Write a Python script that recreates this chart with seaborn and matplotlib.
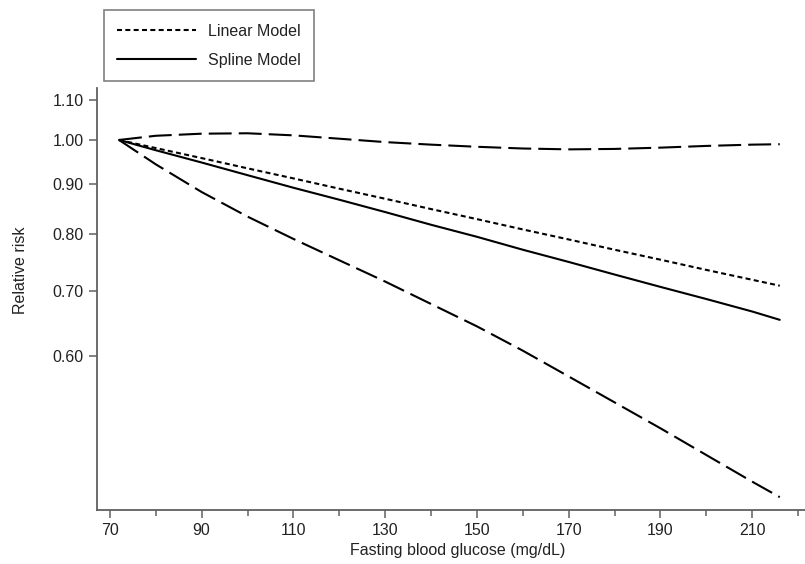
import numpy as np
import pandas as pd
import matplotlib
matplotlib.use("Agg")
import matplotlib.pyplot as plt
import seaborn as sns
from matplotlib.ticker import FixedLocator, MultipleLocator, NullLocator, FormatStrFormatter

glucose = [72, 80, 90, 100, 110, 120, 130, 140, 150, 160, 170, 180, 190, 200, 210, 216]

# relative risk readings
linear_rr = [1.000, 0.981, 0.958, 0.935, 0.913, 0.891, 0.870, 0.849, 0.829,
             0.809, 0.790, 0.771, 0.753, 0.735, 0.718, 0.708]
spline_rr = [1.000, 0.976, 0.948, 0.920, 0.893, 0.868, 0.843, 0.818, 0.795,
             0.771, 0.749, 0.727, 0.706, 0.686, 0.666, 0.653]
upper_ci = [1.000, 1.010, 1.015, 1.016, 1.011, 1.003, 0.995, 0.989, 0.984,
            0.980, 0.978, 0.979, 0.982, 0.986, 0.989, 0.990]
lower_ci = [1.000, 0.944, 0.884, 0.834, 0.791, 0.752, 0.715, 0.678, 0.643,
            0.607, 0.571, 0.537, 0.505, 0.474, 0.445, 0.429]

yticks = [0.60, 0.70, 0.80, 0.90, 1.00, 1.10]
xticks = [70, 90, 110, 130, 150, 170, 190, 210]

sns.set_style("ticks")
plt.rcParams['font.family'] = ['Liberation Sans', 'DejaVu Sans']
fs = 11.5

fig = plt.figure(figsize=(8.05, 5.64), dpi=100)
ax = fig.add_axes([0.1205, 0.0957, 0.8795, 0.7483])

df = pd.DataFrame({'glucose': glucose, 'linear': linear_rr, 'spline': spline_rr,
                   'upper': upper_ci, 'lower': lower_ci})

lw = 1.5
long_dash = (0, (11, 3.4))
short_dash = (0, (2.4, 1.6))

sns.lineplot(data=df, x='glucose', y='upper', ax=ax, color='black', lw=lw, linestyle=long_dash)
sns.lineplot(data=df, x='glucose', y='lower', ax=ax, color='black', lw=lw, linestyle=long_dash)
sns.lineplot(data=df, x='glucose', y='linear', ax=ax, color='black', lw=lw, linestyle=short_dash)
sns.lineplot(data=df, x='glucose', y='spline', ax=ax, color='black', lw=lw, linestyle='-')

ax.set_yscale('log')
ax.set_ylim(0.4161, 1.1311)
ax.set_xlim(67.2, 221.5)

ax.yaxis.set_major_locator(FixedLocator(yticks))
ax.yaxis.set_major_formatter(FormatStrFormatter('%.2f'))
ax.yaxis.set_minor_locator(NullLocator())
ax.xaxis.set_major_locator(FixedLocator(xticks))
ax.xaxis.set_minor_locator(MultipleLocator(10))

for side in ['top', 'right']:
    ax.spines[side].set_visible(False)
for side in ['left', 'bottom']:
    ax.spines[side].set_color('#606060')
    ax.spines[side].set_linewidth(1.3)

ax.tick_params(axis='both', which='major', length=6, width=1.1, color='#606060',
               labelcolor='#222222', labelsize=fs, pad=3.5)
ax.tick_params(axis='x', which='minor', length=4, width=1.1, color='#606060')

ax.set_xlabel('Fasting blood glucose (mg/dL)', fontsize=fs, color='#222222')
ax.set_ylabel('Relative risk', fontsize=fs, color='#222222')
ax.xaxis.set_label_coords(0.51, -0.077)
ax.yaxis.set_label_coords(-0.097, 0.569)

h_lin, = ax.plot([], [], color='black', lw=lw, linestyle=short_dash)
h_spl, = ax.plot([], [], color='black', lw=lw, linestyle='-')
leg = fig.legend([h_lin, h_spl], ['Linear Model', 'Spline Model'],
                 loc='upper left', bbox_to_anchor=(0.129, 0.982),
                 frameon=True, fancybox=False, fontsize=fs,
                 handlelength=4.95, handletextpad=0.7, labelspacing=0.88,
                 borderpad=0.85, borderaxespad=0)
leg.get_frame().set_edgecolor('#606060')
leg.get_frame().set_linewidth(1.2)
for t in leg.get_texts():
    t.set_color('#222222')

fig.savefig('out.png', dpi=100)
